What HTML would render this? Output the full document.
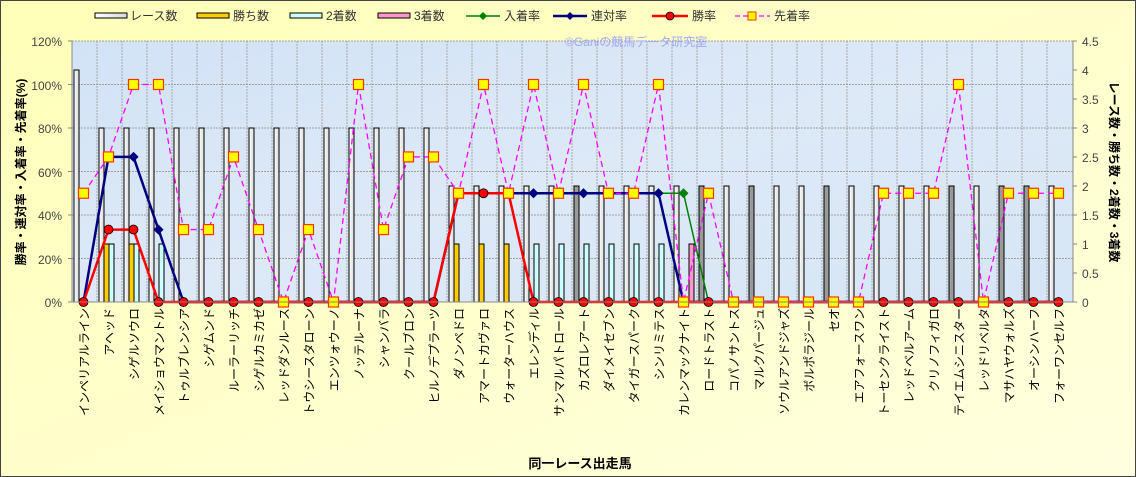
<!DOCTYPE html>
<html><head><meta charset="utf-8"><style>
html,body{margin:0;padding:0;background:#fff}
svg{display:block}
text{font-family:"Liberation Sans","Noto Sans CJK JP",sans-serif}
</style></head><body>
<svg id="c" width="1136" height="477" viewBox="0 0 1136 477" xmlns="http://www.w3.org/2000/svg">
<defs>
<linearGradient id="bg" x1="0" y1="0" x2="1" y2="1"><stop offset="0" stop-color="#ffffb8"/><stop offset="1" stop-color="#ffffe0"/></linearGradient>
<linearGradient id="pb" x1="0" y1="0" x2="1" y2="1"><stop offset="0" stop-color="#d2e3f6"/><stop offset="0.5" stop-color="#dde9f7"/><stop offset="1" stop-color="#d6e6f6"/></linearGradient>
<linearGradient id="wb" x1="0" y1="0" x2="1" y2="0"><stop offset="0" stop-color="#ffffff"/><stop offset="1" stop-color="#d8d8d8"/></linearGradient>
</defs>
<rect x="0.5" y="0.5" width="1135" height="476" fill="url(#bg)" stroke="#444" stroke-width="1"/>
<rect x="72" y="41" width="1001" height="261" fill="url(#pb)"/>
<g id="grid"></g>
<text x="565" y="46" font-size="12" fill="#9fa8f0">©Ganiの競馬データ研究室</text>
<g id="bars"></g>
<g id="lines"></g>
<line x1="72" y1="41" x2="72" y2="302" stroke="#888"/>
<line x1="1073" y1="41" x2="1073" y2="302" stroke="#888"/>
<line x1="72" y1="302" x2="1073" y2="302" stroke="#888"/>
<g font-size="12" fill="#444" text-anchor="end">
<text x="62" y="46">120%</text><text x="62" y="90">100%</text><text x="62" y="133">80%</text><text x="62" y="177">60%</text><text x="62" y="220">40%</text><text x="62" y="264">20%</text><text x="62" y="307">0%</text>
</g>
<g font-size="12" fill="#444">
<text x="1082" y="46">4.5</text><text x="1082" y="75">4</text><text x="1082" y="104">3.5</text><text x="1082" y="133">3</text><text x="1082" y="162">2.5</text><text x="1082" y="191">2</text><text x="1082" y="220">1.5</text><text x="1082" y="249">1</text><text x="1082" y="278">0.5</text><text x="1082" y="307">0</text>
</g>
<text transform="translate(25,172) rotate(-90)" font-size="12" font-weight="bold" text-anchor="middle" fill="#000">勝率・連対率・入着率・先着率(%)</text>
<text transform="translate(1110,172) rotate(90)" font-size="12" font-weight="bold" text-anchor="middle" fill="#000">レース数・勝ち数・2着数・3着数</text>
<text x="580" y="468" font-size="13" font-weight="bold" text-anchor="middle" fill="#000">同一レース出走馬</text>
<!-- legend -->
<g font-size="12" fill="#333">
<rect x="95" y="13" width="32" height="5" fill="url(#wb)" stroke="#000"/><text x="130" y="20">レース数</text>
<rect x="197" y="13" width="32" height="5" fill="#ffcc00" stroke="#000"/><text x="233" y="20">勝ち数</text>
<rect x="290" y="13" width="32" height="5" fill="#ccffff" stroke="#000"/><text x="326" y="20">2着数</text>
<rect x="378" y="13" width="32" height="5" fill="#ff99cc" stroke="#000"/><text x="414" y="20">3着数</text>
<line x1="466" y1="16" x2="500" y2="16" stroke="#008000" stroke-width="1.5"/><path d="M483 12 L487 16 L483 20 L479 16Z" fill="#008000"/><text x="504" y="20">入着率</text>
<line x1="553" y1="16" x2="587" y2="16" stroke="#000080" stroke-width="2.5"/><path d="M570 12 L574 16 L570 20 L566 16Z" fill="#000080"/><text x="591" y="20">連対率</text>
<line x1="652" y1="16" x2="688" y2="16" stroke="#ff0000" stroke-width="2.5"/><circle cx="670" cy="16" r="4" fill="#f00" stroke="#000" stroke-width="0.8"/><text x="692" y="20">勝率</text>
<line x1="735" y1="16" x2="770" y2="16" stroke="#ff00ff" stroke-width="1.3" stroke-dasharray="5,3"/><rect x="748" y="12" width="8" height="8" fill="#ffff00" stroke="#ff3300"/><text x="774" y="20">先着率</text>
</g>
<g font-size="12" fill="#000" text-anchor="end">
<text transform="translate(88.5,308) rotate(-90)">インペリアルライン</text>
<text transform="translate(113.5,308) rotate(-90)">アヘッド</text>
<text transform="translate(138.5,308) rotate(-90)">シゲルソウロ</text>
<text transform="translate(163.5,308) rotate(-90)">メイショウマントル</text>
<text transform="translate(188.5,308) rotate(-90)">トゥルブレンシア</text>
<text transform="translate(213.5,308) rotate(-90)">シゲムンド</text>
<text transform="translate(238.5,308) rotate(-90)">ルーラーリッチ</text>
<text transform="translate(263.5,308) rotate(-90)">シゲルカミカゼ</text>
<text transform="translate(288.5,308) rotate(-90)">レッドダンルース</text>
<text transform="translate(313.5,308) rotate(-90)">トウシースタローン</text>
<text transform="translate(338.5,308) rotate(-90)">エンツォウーノ</text>
<text transform="translate(363.5,308) rotate(-90)">ノッテルーナ</text>
<text transform="translate(388.5,308) rotate(-90)">シャンバラ</text>
<text transform="translate(413.5,308) rotate(-90)">クールブロン</text>
<text transform="translate(438.5,308) rotate(-90)">ヒルノデプラーツ</text>
<text transform="translate(463.5,308) rotate(-90)">ダノンペドロ</text>
<text transform="translate(488.5,308) rotate(-90)">アマートカヴァロ</text>
<text transform="translate(513.5,308) rotate(-90)">ウォーターハウス</text>
<text transform="translate(538.5,308) rotate(-90)">エレンディル</text>
<text transform="translate(563.5,308) rotate(-90)">サンマルパトロール</text>
<text transform="translate(588.5,308) rotate(-90)">カズロレアート</text>
<text transform="translate(613.5,308) rotate(-90)">ダイメイセブン</text>
<text transform="translate(638.5,308) rotate(-90)">タイガースパーク</text>
<text transform="translate(663.5,308) rotate(-90)">シンリミテス</text>
<text transform="translate(688.5,308) rotate(-90)">カレンマックナイト</text>
<text transform="translate(713.5,308) rotate(-90)">ロードトラスト</text>
<text transform="translate(738.5,308) rotate(-90)">コパノサントス</text>
<text transform="translate(763.5,308) rotate(-90)">マルクパージュ</text>
<text transform="translate(788.5,308) rotate(-90)">ソウルアンドジャズ</text>
<text transform="translate(813.5,308) rotate(-90)">ボルポラジール</text>
<text transform="translate(838.5,308) rotate(-90)">セオ</text>
<text transform="translate(863.5,308) rotate(-90)">エアフォースワン</text>
<text transform="translate(888.5,308) rotate(-90)">トーセンクライスト</text>
<text transform="translate(913.5,308) rotate(-90)">レッドベルアーム</text>
<text transform="translate(938.5,308) rotate(-90)">クリノフィガロ</text>
<text transform="translate(963.5,308) rotate(-90)">テイエムシニスター</text>
<text transform="translate(988.5,308) rotate(-90)">レッドリベルタ</text>
<text transform="translate(1013.5,308) rotate(-90)">マサハヤウォルズ</text>
<text transform="translate(1038.5,308) rotate(-90)">オーシンハーフ</text>
<text transform="translate(1063.5,308) rotate(-90)">フォーワンセルフ</text>
</g>
</svg>
<script>
(function(){
var NS="http://www.w3.org/2000/svg";
function el(p,t,a){var e=document.createElementNS(NS,t);for(var k in a)e.setAttribute(k,a[k]);p.appendChild(e);return e;}
var g=document.getElementById('grid'),b=document.getElementById('bars'),l=document.getElementById('lines');
function yp(p){return 302-p*261/120;}
function yc(c){return 302-c*261/4.5;}
function cx(i){return 83.5+25*i;}
for(var i=1;i<40;i++){var x=72+25*i;el(g,'line',{x1:x,y1:41,x2:x,y2:302,stroke:'#a8a8a8','stroke-width':1,'stroke-dasharray':'2,1'});}
for(var p=20;p<=120;p+=20){el(g,'line',{x1:72,y1:yp(p),x2:1073,y2:yp(p),stroke:'#a0a0a0','stroke-width':1,'stroke-dasharray':'2,1'});}
for(var k=0;k<=9;k++){var y=yc(k*0.5);el(g,'line',{x1:1073,y1:y,x2:1077,y2:y,stroke:'#888'});}
for(var k=0;k<=6;k++){el(g,'line',{x1:68,y1:yp(k*20),x2:72,y2:yp(k*20),stroke:'#888'});}
var races=[4,3,3,3,3,3,3,3,3,3,3,3,3,3,3,2,2,2,2,2,2,2,2,2,2,2,2,2,2,2,2,2,2,2,2,2,2,2,2,2];
var grey=[20,25,27,30,35,37,38];
var wins={1:1,2:1,15:1,16:1,17:1};
var sec={1:1,2:1,3:1,18:1,19:1,20:1,21:1,22:1,23:1};
var thr={24:1};
for(var i=0;i<40;i++){
 var c=cx(i);
 el(b,'rect',{x:c-9.5,y:yc(races[i]),width:5,height:302-yc(races[i]),fill:grey.indexOf(i)>=0?'#9a9a9a':'url(#wb)',stroke:'#000','stroke-width':1});
 if(wins[i])el(b,'rect',{x:c-4.5,y:yc(wins[i]),width:5,height:302-yc(wins[i]),fill:'#ffcc00',stroke:'#000','stroke-width':1});
 if(sec[i])el(b,'rect',{x:c+0.5,y:yc(sec[i]),width:5,height:302-yc(sec[i]),fill:'#ccffff',stroke:'#000','stroke-width':1});
 if(thr[i])el(b,'rect',{x:c+5.5,y:yc(thr[i]),width:5,height:302-yc(thr[i]),fill:'#ff99cc',stroke:'#000','stroke-width':1});
}
var win=[],ren=[],nyu=[],sen=[50,66.7,100,100,33.3,33.3,66.7,33.3,0,33.3,0,100,33.3,66.7,66.7,50,100,50,100,50,100,50,50,100,0,50,0,0,0,0,0,0,50,50,50,100,0,50,50,50];
for(var i=0;i<40;i++){win[i]=0;ren[i]=0;}
win[1]=win[2]=33.3;win[15]=win[16]=win[17]=50;
ren[1]=ren[2]=66.7;ren[3]=33.3;for(var i=15;i<=23;i++)ren[i]=50;
for(var i=0;i<40;i++)nyu[i]=ren[i];nyu[24]=50;
function pts(a){return a.map(function(v,i){return cx(i)+','+yp(v);}).join(' ');}
function dia(x,y,r,f){el(l,'path',{d:'M'+x+' '+(y-r)+'L'+(x+r)+' '+y+'L'+x+' '+(y+r)+'L'+(x-r)+' '+y+'Z',fill:f});}
el(l,'polyline',{points:pts(nyu),fill:'none',stroke:'#008000','stroke-width':1.5});
nyu.forEach(function(v,i){dia(cx(i),yp(v),5,'#008000');});
el(l,'polyline',{points:pts(ren),fill:'none',stroke:'#000080','stroke-width':2.5});
ren.forEach(function(v,i){dia(cx(i),yp(v),5,'#000080');});
el(l,'polyline',{points:pts(win),fill:'none',stroke:'#ff0000','stroke-width':2.5});
el(l,'polyline',{points:pts(sen),fill:'none',stroke:'#ff00ff','stroke-width':1.3,'stroke-dasharray':'6,4'});
win.forEach(function(v,i){el(l,'circle',{cx:cx(i),cy:yp(v),r:4.5,fill:'#ff0000',stroke:'#000','stroke-width':0.8});});
sen.forEach(function(v,i){el(l,'rect',{x:cx(i)-5,y:yp(v)-5,width:10,height:10,fill:'#ffff00',stroke:'#ff3300','stroke-width':1.2});});
})();
</script>
</body></html>
